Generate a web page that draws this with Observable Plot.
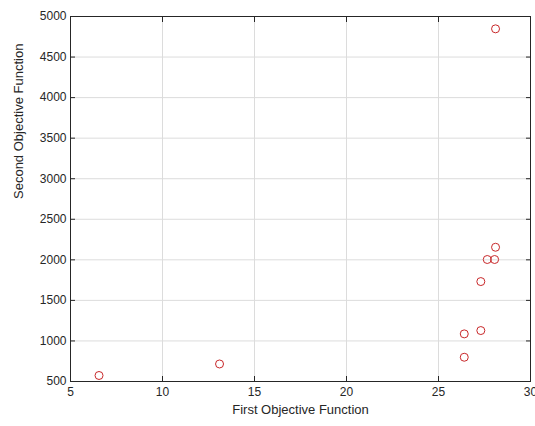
<!DOCTYPE html>
<html><head><meta charset="utf-8">
<script src="https://cdn.jsdelivr.net/npm/d3@7"></script>
<script src="https://cdn.jsdelivr.net/npm/@observablehq/plot@0.6"></script>
<style>body{margin:0;background:#fff;} #chart{position:absolute;left:0;top:0;}</style>
</head><body><div id="chart"></div>
<script>
const firstObjective = [6.55, 13.1, 26.4, 26.4, 27.3, 27.3, 27.65, 28.05, 28.1, 28.1];
const secondObjective = [574, 716, 799, 1087, 1128, 1732, 2004, 2004, 2155, 4848];
const xTicks = [5, 10, 15, 20, 25, 30];
const yTicks = [500, 1000, 1500, 2000, 2500, 3000, 3500, 4000, 4500, 5000];
const xLabel = "First Objective Function";
const yLabel = "Second Objective Function";

const data = firstObjective.map((x, i) => ({x, y: secondObjective[i]}));
const font = "Liberation Sans, Arial, sans-serif";
const axisColor = "#262626";
const none = () => "";

const chart = Plot.plot({
  width: 535, height: 426,
  marginLeft: 70, marginRight: 5, marginTop: 16, marginBottom: 45,
  style: {fontFamily: font, fontSize: "12px", color: axisColor, background: "#fff"},
  x: {domain: [5, 30], ticks: xTicks},
  y: {domain: [500, 5000], ticks: yTicks},
  marks: [
    Plot.gridX(xTicks, {stroke: "#dcdcdc", strokeOpacity: 1}),
    Plot.gridY(yTicks, {stroke: "#dcdcdc", strokeOpacity: 1}),
    Plot.frame({stroke: axisColor, strokeWidth: 1}),
    // inward tick marks
    Plot.axisX(xTicks, {anchor: "bottom", tickSize: 5, dy: -5, tickFormat: none, label: null, stroke: axisColor}),
    Plot.axisX(xTicks, {anchor: "top", tickSize: 5, dy: 5, tickFormat: none, label: null, stroke: axisColor}),
    Plot.axisY(yTicks, {anchor: "left", tickSize: 5, dx: 5, tickFormat: none, label: null, stroke: axisColor}),
    Plot.axisY(yTicks, {anchor: "right", tickSize: 5, dx: -5, tickFormat: none, label: null, stroke: axisColor}),
    // tick labels
    Plot.axisX(xTicks, {anchor: "bottom", tickSize: 0, tickPadding: 6, tickFormat: "d", label: null, fontSize: 12, fill: axisColor}),
    Plot.axisY(yTicks, {anchor: "left", tickSize: 0, tickPadding: 4, tickFormat: "d", label: null, fontSize: 12, fill: axisColor}),
    Plot.text([xLabel], {frameAnchor: "bottom", dy: 23, fontSize: 13, fill: axisColor, lineAnchor: "top"}),
    Plot.text([yLabel], {frameAnchor: "left", dx: -52, rotate: -90, fontSize: 13, fill: axisColor}),
    Plot.dot(data, {x: "x", y: "y", r: 4, stroke: "#c8282a", strokeWidth: 1, fill: "none"})
  ]
});
document.getElementById("chart").appendChild(chart);
</script></body></html>
